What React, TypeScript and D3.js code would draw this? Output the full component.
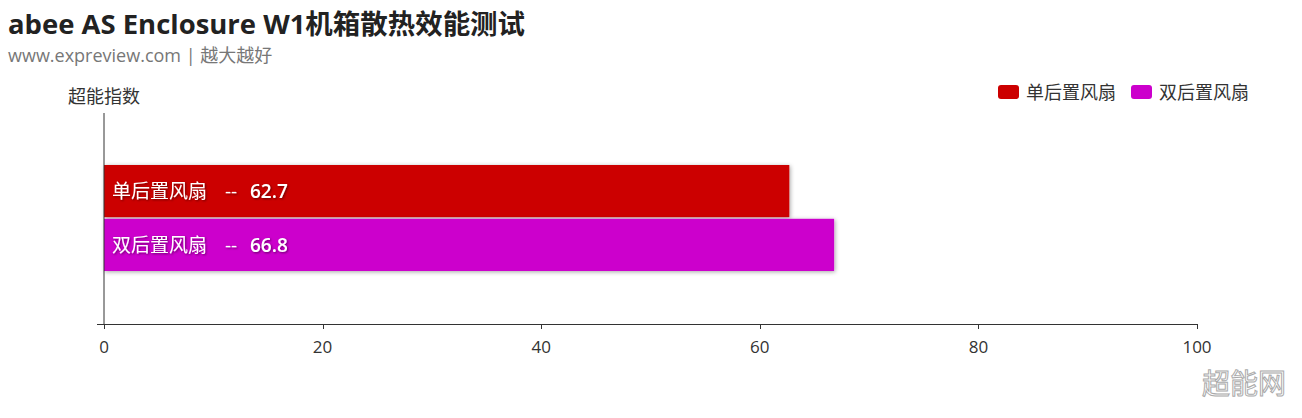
import React from "react";
import * as d3 from "d3";

const categories = ["单后置风扇", "双后置风扇"];
const values = [62.7, 66.8];
const colors = ["#cc0000", "#cc00cc"];
const xTicks = [0, 20, 40, 60, 80, 100];

const W = 1302, H = 418;
const left = 104, right = 1197, top = 113, bottom = 324;
const FONT = "'Open Sans', 'Noto Sans CJK SC', sans-serif";

export default function App() {
  const x = d3.scaleLinear().domain([0, 100]).range([left, right]);
  const y = d3.scaleBand().domain(categories).range([165, 271]).paddingInner(0.03);
  return (
    <svg width={W} height={H} style={{ position: "absolute", left: 0, top: 0, background: "#fff" }} fontFamily={FONT}>
      <defs>
        <filter id="sh" x="-5%" y="-20%" width="110%" height="140%">
          <feDropShadow dx="1" dy="1" stdDeviation="2" floodColor="#000" floodOpacity="0.35" />
        </filter>
        <filter id="ts" x="-5%" y="-30%" width="110%" height="160%">
          <feDropShadow dx="1" dy="1" stdDeviation="1" floodColor="#000" floodOpacity="0.5" />
        </filter>
      </defs>
      <text x={8} y={34} fontSize={27} fontWeight="bold" fill="#222" textLength={517} lengthAdjust="spacingAndGlyphs">abee AS Enclosure W1机箱散热效能测试</text>
      <text x={8} y={62} fontSize={18} fill="#777">www.expreview.com | 越大越好</text>
      <text x={68} y={103} fontSize={18} fill="#333">超能指数</text>
      {categories.map((c, i) => (
        <g key={c} transform={`translate(${i === 0 ? 998 : 1131},85)`}>
          <rect width={21} height={14} rx={3} fill={colors[i]} />
          <text x={28} y={14} fontSize={18} fill="#333">{c}</text>
        </g>
      ))}
      {categories.map((c, i) => (
        <g key={c}>
          <rect x={x(0)} y={y(c)} width={x(values[i]) - x(0)} height={y.bandwidth()} fill={colors[i]} filter="url(#sh)" />
          <text x={x(0) + 8} y={y(c)! + y.bandwidth() / 2 + 7} fontSize={19} fill="#fff" filter="url(#ts)" style={{ whiteSpace: "pre" }} xmlSpace="preserve">
            <tspan>{c}</tspan>
            <tspan x={x(0) + 121}>--</tspan>
            <tspan x={x(0) + 146} fontWeight="600">{values[i]}</tspan>
          </text>
        </g>
      ))}
      <line x1={left} x2={left} y1={top} y2={bottom} stroke="#333" />
      <line x1={97} x2={right} y1={bottom + 0.5} y2={bottom + 0.5} stroke="#333" />
      {xTicks.map(t => (
        <g key={t}>
          <line x1={Math.round(x(t)) + 0.5} x2={Math.round(x(t)) + 0.5} y1={bottom} y2={bottom + 5} stroke="#333" />
          <text x={x(t)} y={353} fontSize={17} fill="#333" textAnchor="middle">{t}</text>
        </g>
      ))}
      <text x={1286} y={394} fontSize={28} fill="#fff" stroke="#aaa" strokeWidth={1} textAnchor="end" fontFamily="'Noto Sans CJK SC', sans-serif">超能网</text>
    </svg>
  );
}
